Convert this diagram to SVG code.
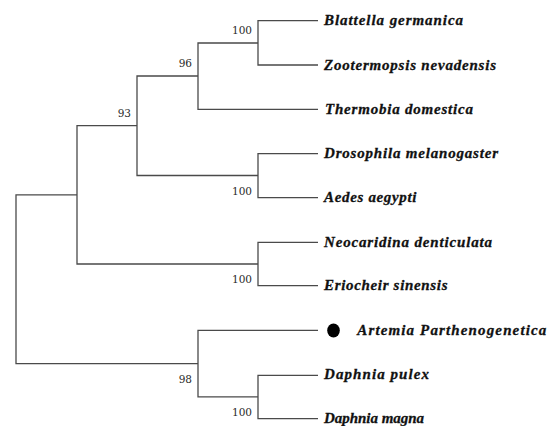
<svg xmlns="http://www.w3.org/2000/svg" width="560" height="426" viewBox="0 0 560 426">
<style>
.br{fill:none;stroke:#4a4a4a;stroke-width:1.3}
.sp{font-family:"DejaVu Serif","Liberation Serif",serif;font-size:10.5px;fill:#2a2a2a;text-anchor:end}
.tx{font-family:"Liberation Serif","Times New Roman",serif;font-size:15px;font-weight:bold;font-style:italic;fill:#111;stroke:#111;stroke-width:0.3}
</style>
<rect width="560" height="426" fill="#fff"/>
<g id="connectors">
<path class="br" d="M77,194.8H16V363.6H198"/>
<path class="br" d="M137,125.7H77V264H258"/>
<path class="br" d="M198,76H137V175.5H258"/>
<path class="br" d="M258,43H198V109.3H318"/>
<path class="br" d="M318,20.7H258V65H318"/>
<path class="br" d="M318,153.7H258V197.7H318"/>
<path class="br" d="M318,242.3H258V285.7H318"/>
<path class="br" d="M318,330.3H198V396.8H258"/>
<path class="br" d="M318,375.3H258V418.7H318"/>
</g>
<g id="n-bg"><text class="tx" x="324" y="25" textLength="139" lengthAdjust="spacing">Blattella germanica</text></g>
<g id="n-zn"><text class="tx" x="324" y="69.5" textLength="172" lengthAdjust="spacing">Zootermopsis nevadensis</text></g>
<g id="n-td"><text class="tx" x="325" y="113.5" textLength="148" lengthAdjust="spacing">Thermobia domestica</text></g>
<g id="n-dm"><text class="tx" x="324" y="158" textLength="174" lengthAdjust="spacing">Drosophila melanogaster</text></g>
<g id="n-aa"><text class="tx" x="324" y="202" textLength="92.5" lengthAdjust="spacing">Aedes aegypti</text></g>
<g id="n-nd"><text class="tx" x="324" y="246.5" textLength="168" lengthAdjust="spacing">Neocaridina denticulata</text></g>
<g id="n-es"><text class="tx" x="324" y="290" textLength="123.5" lengthAdjust="spacing">Eriocheir sinensis</text></g>
<g id="n-ap"><ellipse cx="333.5" cy="330.5" rx="6.3" ry="7" fill="#000"/><text class="tx" x="357.3" y="334.5" textLength="189" lengthAdjust="spacing">Artemia Parthenogenetica</text></g>
<g id="n-dp"><text class="tx" x="324" y="379" textLength="105" lengthAdjust="spacing">Daphnia pulex</text></g>
<g id="n-dmg"><text class="tx" x="324" y="423" textLength="100" lengthAdjust="spacing">Daphnia magna</text></g>
<g id="s1"><text class="sp" x="252" y="34">100</text></g>
<g id="s2"><text class="sp" x="192" y="67">96</text></g>
<g id="s3"><text class="sp" x="131" y="116.7">93</text></g>
<g id="s4"><text class="sp" x="252" y="194.7">100</text></g>
<g id="s5"><text class="sp" x="252" y="283">100</text></g>
<g id="s6"><text class="sp" x="192" y="383">98</text></g>
<g id="s7"><text class="sp" x="252" y="416">100</text></g>
</svg>
